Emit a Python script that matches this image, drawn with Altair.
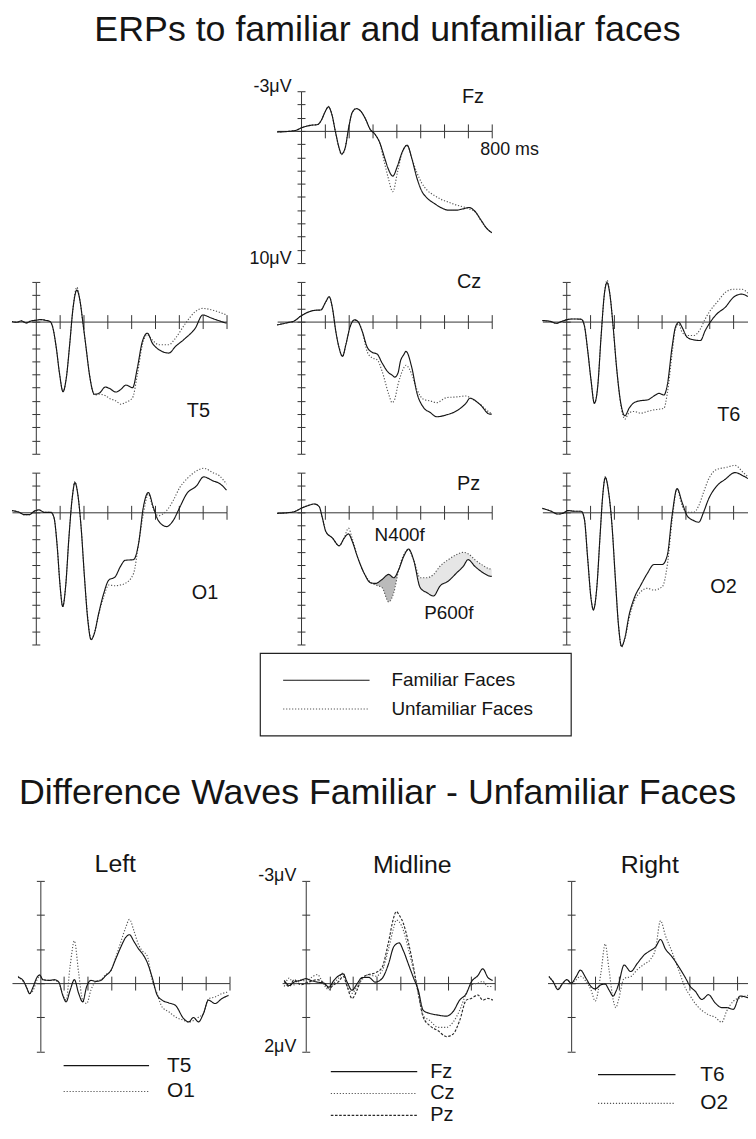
import altair as alt
import pandas as pd

FONT = "Liberation Sans"
INK = "#151515"
GREY = "#555555"
AX = "#333333"

# ---------------- text ----------------
TITLE_TOP = "ERPs to familiar and unfamiliar faces"
TITLE_DIFF = "Difference Waves Familiar - Unfamiliar Faces"
CONDITIONS = ["Familiar Faces", "Unfamiliar Faces"]
DIFF_TITLES = ["Left", "Midline", "Right"]
FZ_Y_LABELS = ["-3\u03bcV", "10\u03bcV"]
MID_Y_LABELS = ["-3\u03bcV", "2\u03bcV"]
X_END_LABEL = "800 ms"

# ---------------- ticks ----------------
top_uv_ticks = list(range(-3, 11))
diff_uv_ticks = list(range(-3, 3))
ms_ticks = [100, 200, 300, 400, 500, 600, 700, 800]
ms_ticks_cut = [100, 200, 300, 400, 500, 600, 700]

# ---------------- ERP waveforms (ms / microvolt, negative up) ----------------
fz_t = [-100, -60, -20, 0, 40, 70, 85, 100, 115, 130, 145, 160, 170, 185, 200, 215, 232, 250, 270, 290,
        310, 330, 350, 365, 385, 405, 425, 445, 465, 485, 505, 530, 560, 590, 620, 650, 680, 705, 730, 755, 780, 800]
fz_fam = [0.08, 0.05, -0.05, -0.22, -0.42, -0.48, -0.8, -1.4, -1.82, -1.2, 0.12, 1.3, 1.75, 1.3, -0.25, -1.4, -1.68, -1.5, -0.92, -0.12,
          0.25, 0.88, 2.0, 2.83, 3.42, 2.63, 1.58, 1.08, 2.1, 3.5, 4.5, 5.1, 5.5, 5.83, 6.0, 6.0, 5.9, 5.8, 6.1, 6.75, 7.4, 7.7]
fz_unf = [0.08, 0.05, -0.05, -0.22, -0.42, -0.48, -0.8, -1.4, -1.85, -1.2, 0.12, 1.35, 1.8, 1.3, -0.25, -1.4, -1.7, -1.5, -0.92, -0.12,
          0.25, 0.9, 2.4, 3.5, 4.6, 3.1, 1.6, 1.1, 2.1, 3.1, 3.9, 4.5, 4.9, 5.2, 5.4, 5.6, 5.75, 5.9, 6.1, 6.8, 7.4, 7.7]

t5_t = [-100, -80, -60, -40, -20, 0, 20, 40, 60, 72, 86, 100, 114, 128, 142, 156, 172, 186, 197, 211,
        225, 246, 267, 292, 308, 336, 357, 378, 406, 426, 447, 468, 489, 517, 558, 586, 628, 669, 700, 739, 800]
t5_fam = [0.0, 0.05, -0.05, 0.1, -0.05, -0.1, -0.15, -0.1, 0.0, 0.5, 2.0, 4.0, 5.3, 4.25, 1.75, -1.0, -2.38, -1.5, 0.0, 2.0,
          4.0, 5.5, 5.4, 4.95, 5.05, 5.33, 5.13, 4.8, 5.0, 3.5, 1.5, 0.88, 1.63, 2.13, 2.38, 1.88, 1.25, 0.5, -0.5, -0.25, 0.13]
t5_unf = [0.0, 0.05, -0.05, 0.1, -0.05, -0.1, -0.15, -0.1, 0.0, 0.5, 2.0, 4.0, 5.3, 4.25, 1.75, -1.0, -2.6, -1.5, 0.0, 2.0,
          4.0, 5.55, 5.5, 5.6, 5.8, 6.0, 6.25, 6.1, 5.75, 4.0, 1.75, 1.0, 1.4, 1.75, 1.75, 1.25, 0.13, -0.75, -1.0, -0.88, -0.5]

cz_t = [-100, -56, -28, 0, 28, 56, 83, 104, 118, 132, 146, 160, 174, 188, 206, 225, 239, 257, 278, 299,
        319, 340, 368, 382, 393, 407, 417, 431, 440, 465, 486, 514, 542, 569, 611, 653, 694, 708, 750, 792, 800]
cz_fam = [0.25, 0.08, -0.05, -0.43, -0.7, -0.85, -0.88, -1.5, -1.88, -1.0, 0.75, 2.0, 2.63, 1.75, 0.38, -0.13, 0.0, 0.75, 1.95, 2.33,
          2.45, 3.13, 3.88, 4.05, 4.2, 3.88, 3.0, 2.5, 2.25, 3.5, 5.38, 6.5, 6.88, 7.2, 7.05, 6.75, 6.13, 5.8, 6.25, 7.0, 7.0]
cz_unf = [0.25, 0.08, -0.05, -0.43, -0.7, -0.85, -0.88, -1.5, -1.88, -1.0, 0.75, 2.0, 2.63, 1.75, 0.38, -0.13, 0.0, 0.75, 2.3, 2.75,
          2.88, 3.75, 5.5, 6.13, 5.88, 4.75, 4.13, 3.5, 3.3, 4.0, 5.13, 5.88, 6.0, 6.13, 5.75, 5.7, 5.63, 5.75, 6.25, 6.88, 6.95]

t6_t = [-100, -63, -42, -21, 0, 28, 63, 76, 90, 104, 118, 132, 146, 160, 171, 183, 197, 211, 229, 246,
        264, 285, 313, 340, 368, 389, 410, 424, 444, 458, 472, 486, 507, 535, 563, 583, 604, 632, 667, 701, 736, 762]
t6_fam = [-0.08, 0.0, 0.13, 0.0, -0.13, -0.2, -0.18, 0.3, 2.18, 4.43, 6.18, 4.93, 1.18, -2.08, -2.95, -2.08, 0.43, 3.43, 6.18, 7.13,
          6.55, 6.13, 5.98, 5.93, 5.63, 5.43, 5.55, 4.8, 1.93, 0.43, 0.05, 0.43, 1.18, 1.38, 1.43, 0.68, 0.05, -0.58, -1.08, -1.83, -2.08, -1.9]
t6_unf = [-0.08, 0.0, 0.13, 0.0, -0.13, -0.2, -0.18, 0.3, 2.18, 4.43, 6.18, 4.93, 1.18, -2.08, -3.13, -2.1, 0.43, 3.43, 6.3, 7.38,
          6.88, 6.8, 6.93, 6.8, 6.68, 6.63, 6.55, 5.43, 2.43, 0.55, 0.18, 0.8, 1.05, 1.05, 0.55, -0.2, -0.83, -1.45, -2.2, -2.45, -2.45, -2.15]

o1_t = [-100, -69, -49, -28, -7, 14, 35, 63, 76, 90, 101, 113, 125, 139, 153, 164, 176, 190, 204, 218,
        232, 246, 264, 285, 306, 333, 354, 375, 410, 431, 451, 472, 493, 514, 549, 576, 604, 632, 674, 704, 743, 771, 800]
o1_fam = [-0.13, 0.0, 0.18, 0.18, -0.08, -0.18, 0.0, 0.0, 0.38, 2.63, 5.38, 7.13, 5.63, 1.88, -1.13, -2.25, -1.38, 1.13, 4.88, 8.13,
          9.63, 9.13, 7.63, 6.13, 5.13, 4.88, 4.13, 3.63, 3.58, 2.38, -0.38, -1.5, -0.38, 0.63, 1.08, 0.63, -0.38, -1.38, -2.0, -2.68, -2.38, -2.18, -1.68]
o1_unf = [-0.13, 0.0, 0.18, 0.18, -0.08, -0.18, 0.0, 0.0, 0.38, 2.63, 5.38, 7.13, 5.63, 1.88, -1.13, -2.33, -1.38, 1.13, 4.88, 8.0,
          9.63, 9.13, 7.7, 6.38, 5.5, 5.56, 5.5, 5.38, 4.63, 2.38, 0.13, -1.38, -0.25, 0.25, -0.13, -0.88, -1.88, -2.5, -3.13, -3.33, -3.0, -2.75, -2.13]

pz_t = [-100, -56, -28, 0, 28, 56, 76, 90, 104, 132, 160, 181, 199, 215, 236, 264, 292, 313, 340, 368,
        389, 410, 431, 451, 472, 500, 528, 556, 583, 618, 653, 681, 701, 729, 764, 792, 800]
pz_fam = [0.08, 0.03, -0.05, -0.3, -0.5, -0.63, -0.43, 0.45, 1.45, 1.95, 2.53, 1.95, 1.63, 2.2, 3.33, 4.58, 5.33, 5.38, 5.08, 4.7,
          4.95, 4.33, 3.33, 2.78, 3.58, 5.7, 6.08, 6.33, 5.58, 5.2, 4.58, 4.08, 3.58, 4.08, 4.58, 4.83, 4.85]
pz_unf = [0.08, 0.03, -0.05, -0.3, -0.5, -0.63, -0.43, 0.45, 1.45, 1.95, 2.53, 1.95, 1.2, 2.0, 3.33, 4.58, 5.3, 5.5, 5.7, 6.78,
          6.08, 4.33, 3.2, 2.83, 3.58, 4.95, 4.95, 4.7, 4.08, 3.58, 3.2, 3.03, 3.13, 3.58, 4.03, 4.28, 4.3]
PZ_EFFECTS = ["N400f", "P600f"]
pz_effect_windows = [[292, 431], [472, 800]]

o2_t = [-100, -63, -35, -14, 7, 35, 63, 76, 90, 104, 114, 128, 142, 153, 164, 178, 192, 206, 219, 232,
        246, 264, 285, 313, 340, 368, 403, 424, 444, 465, 486, 507, 535, 556, 576, 597, 632, 667, 708, 743, 762]
o2_fam = [-0.3, -0.08, 0.13, 0.08, -0.13, -0.08, -0.08, 0.5, 3.5, 6.5, 7.38, 5.75, 1.75, -1.25, -2.63, -1.5, 1.0, 5.0, 8.5, 10.13,
          9.5, 7.75, 6.5, 5.5, 4.63, 3.95, 3.95, 3.25, 0.25, -1.8, -0.75, 0.25, 0.63, 0.75, 0.0, -1.0, -2.0, -2.5, -3.0, -2.75, -2.55]
o2_unf = [-0.3, -0.08, 0.13, 0.08, -0.13, -0.08, -0.08, 0.5, 3.5, 6.5, 7.38, 5.75, 1.75, -1.25, -2.7, -1.5, 1.0, 5.0, 8.5, 10.2,
          9.6, 8.0, 6.75, 6.0, 5.75, 5.88, 5.63, 4.0, 0.63, -1.75, -0.5, 0.0, 0.0, -0.5, -1.5, -2.5, -3.25, -3.38, -3.55, -3.0, -2.7]

# ---------------- difference waves (familiar - unfamiliar) ----------------
dl_t = [-94, -73, -59, -45, -31, -14, -3, 11, 39, 60, 78, 95, 109, 126, 144, 162, 179, 196, 214, 235,
        256, 277, 298, 319, 340, 361, 377, 396, 417, 431, 452, 473, 494, 515, 543, 571, 606, 627, 648, 669,
        690, 711, 739, 767, 796]
t5_diff = [-0.17, -0.08, 0.12, 0.31, 0.12, -0.17, -0.24, -0.1, -0.08, -0.1, -0.03, 0.36, 0.55, 0.21, -0.1, 0.3, 0.55, 0.1, -0.08, -0.05,
           -0.08, -0.22, -0.37, -0.71, -1.05, -1.34, -1.42, -1.22, -0.99, -0.87, -0.61, -0.17, 0.35, 0.5, 0.58, 0.65, 1.04, 1.14, 1.01, 1.14,
           0.89, 0.5, 0.6, 0.46, 0.36]
o1_diff = [-0.2, -0.05, 0.1, 0.3, 0.22, -0.1, -0.2, -0.1, -0.08, -0.08, 0.0, 0.35, 0.5, -0.5, -1.24, -0.3, 0.5, 0.6, 0.2, -0.05,
           -0.1, -0.25, -0.35, -0.75, -1.2, -1.63, -1.87, -1.53, -1.1, -0.95, -0.8, -0.08, 0.31, 0.7, 0.84, 0.99, 1.09, 1.14, 1.1, 1.0,
           0.9, 0.46, 0.41, 0.31, 0.26]

dm_t = [-91, -70, -49, -21, 0, 21, 49, 77, 98, 119, 140, 158, 175, 196, 217, 238, 266, 294, 322, 350,
        371, 383, 395, 413, 434, 455, 476, 497, 525, 560, 595, 623, 651, 679, 700, 728, 749, 770, 791]
fz_diff = [-0.08, 0.07, -0.03, -0.08, -0.13, -0.08, -0.03, 0.0, 0.12, -0.08, -0.22, -0.27, -0.03, 0.21, 0.02, -0.16, -0.17, -0.03, -0.13, -0.56,
           -1.05, -1.15, -1.18, -0.95, -0.56, -0.17, 0.21, 0.8, 0.89, 0.94, 0.97, 0.84, 0.5, 0.31, -0.03, -0.22, -0.42, -0.17, -0.08]
cz_diff = [0.1, -0.15, 0.05, -0.1, -0.05, -0.15, -0.25, 0.05, 0.2, 0.0, -0.15, -0.3, 0.05, 0.3, 0.1, -0.1, -0.25, -0.2, -0.35, -1.0,
           -1.6, -1.85, -1.8, -1.55, -1.0, -0.4, 0.3, 0.95, 1.1, 1.3, 1.3, 1.15, 0.8, 0.3, 0.05, 0.0, -0.05, 0.1, 0.1]
pz_diff = [-0.05, 0.1, -0.1, 0.05, 0.0, -0.05, -0.1, 0.0, 0.15, 0.05, -0.05, -0.2, 0.1, 0.45, 0.2, -0.15, -0.25, -0.3, -0.45, -1.2,
           -1.9, -2.1, -2.0, -1.75, -1.2, -0.5, 0.3, 1.0, 1.25, 1.4, 1.57, 1.5, 1.1, 0.5, 0.45, 0.35, 0.5, 0.45, 0.5]

dr_t = [-94, -77, -56, -35, -18, 0, 21, 39, 63, 84, 102, 126, 144, 160, 178, 189, 200, 224, 252, 280,
        308, 336, 357, 378, 399, 427, 455, 483, 504, 525, 553, 581, 609, 637, 658, 686, 714, 748]
t6_diff = [-0.19, -0.05, 0.19, 0.0, -0.1, 0.0, -0.19, -0.38, -0.14, 0.1, 0.17, 0.05, 0.03, 0.2, 0.38, 0.25, 0.05, -0.53, -0.34, -0.58,
           -0.82, -0.96, -1.06, -1.28, -1.0, -0.77, -0.48, -0.16, 0.1, 0.24, 0.48, 0.34, 0.58, 0.72, 0.72, 0.77, 0.38, 0.43]
o2_diff = [-0.2, -0.05, 0.15, 0.0, -0.1, 0.0, -0.1, -0.2, -0.05, 0.2, 0.53, -0.3, -1.15, -0.4, 0.5, 0.72, 0.5, -0.14, -0.19, -0.4,
           -0.55, -0.7, -1.0, -1.83, -1.39, -0.91, -0.38, 0.14, 0.38, 0.6, 0.8, 0.93, 1.0, 1.15, 0.82, 0.53, 0.43, 0.36]

# ---------------- styles / geometry ----------------
SOLID = {"color": INK, "dash": [1, 0], "width": 1.15}
DOTTED = {"color": GREY, "dash": [1.2, 1.8], "width": 1.15}
DASHED = {"color": "#2a2a2a", "dash": [2.6, 1.6], "width": 1.15}

W_TOTAL = 741.0
H_TOTAL = 1122.0
TOP_PX_MS, TOP_H = 0.24, 173.0
DIFF_PX_MS, DIFF_H = 0.238, 171.5


def text_layer(txt, x, y, size, align="left"):
    return (alt.Chart(pd.DataFrame({"label": [txt]}))
            .mark_text(font=FONT, fontSize=size, align=align, baseline="middle", color=INK)
            .encode(text="label:N", x=alt.value(x), y=alt.value(y)))


def rule_layer(name, st, x0, x1, y):
    return (alt.Chart(pd.DataFrame({"label": [name]}))
            .mark_rule(stroke=st["color"], strokeDash=st["dash"], strokeWidth=st["width"])
            .encode(x=alt.value(x0), x2=alt.value(x1), y=alt.value(y)))


def panel(t, series, styles, xmin, xmax, pxms, height, ydom, yticks, xticks, px0, py0,
          ylab=None, xlab=None, texts=(), shade=()):
    width = (xmax - xmin) * pxms
    xzero = px0 - xmin * pxms
    yzero = py0 + (-ydom[0]) / (ydom[1] - ydom[0]) * height
    xs = alt.Scale(domain=[xmin, xmax], range=[px0, px0 + width], nice=False, zero=False)
    ys = alt.Scale(domain=list(ydom), range=[py0, py0 + height], nice=False, zero=False)
    layers = []
    for (lo, hi), fill, op in shade:
        dfa = pd.DataFrame({"t": t, "a": series[0], "b": series[1]})
        layers.append(
            alt.Chart(dfa)
            .transform_filter(alt.FieldRangePredicate(field="t", range=[lo, hi]))
            .mark_area(color=fill, opacity=op, interpolate="monotone")
            .encode(x=alt.X("t:Q", scale=xs, axis=None),
                    y=alt.Y("a:Q", scale=ys, axis=None),
                    y2="b:Q"))
    if xlab:
        xkw = dict(labels=True, labelExpr=f"datum.value == 800 ? '{xlab}' : ''", labelAlign="left",
                   labelOffset=-12, labelPadding=3, labelFontSize=18, labelBaseline="top")
    else:
        xkw = dict(labels=False)
    if ylab:
        ykw = dict(labels=True,
                   labelExpr=f"datum.value == {ydom[0]} ? '{ylab[0]}' : (datum.value == {ydom[1]} ? '{ylab[1]}' : '')",
                   labelFontSize=18, labelPadding=6, labelOffset=-5, labelBaseline="middle", labelAlign="right")
    else:
        ykw = dict(labels=False)
    lines = []
    for i, (vals, st) in enumerate(zip(series, styles)):
        df = pd.DataFrame({"t": t, "v": vals})
        if i == 0:
            xa = alt.Axis(orient="bottom", offset=yzero - H_TOTAL, values=xticks, tickSize=7,
                          title=None, grid=False, labelOverlap=False, labelFlush=False, **xkw)
            ya = alt.Axis(orient="left", offset=-xzero, values=yticks, tickSize=4,
                          title=None, grid=False, labelOverlap=False, **ykw)
        elif i == 1:
            xa = alt.Axis(orient="top", offset=-yzero, values=xticks, tickSize=7,
                          labels=False, domain=False, title=None, grid=False)
            ya = alt.Axis(orient="right", offset=xzero - W_TOTAL, values=yticks, tickSize=4,
                          labels=False, domain=False, title=None, grid=False)
        else:
            xa = None
            ya = None
        lines.append(
            alt.Chart(df)
            .mark_line(stroke=st["color"], strokeDash=st["dash"], strokeWidth=st["width"],
                       interpolate="monotone")
            .encode(x=alt.X("t:Q", scale=xs, axis=xa), y=alt.Y("v:Q", scale=ys, axis=ya)))
    layers += lines[::-1]
    for txt, rx, ry, size, align in texts:
        layers.append(text_layer(txt, px0 + rx, py0 + ry, size, align))
    return layers


FU = [SOLID, DOTTED]
TOPY = (-3, 10)
DIFFY = (-3, 2)
COL_X = [0, 267, 534]
ROW_Y = [80, 272, 464]
DCOL_X = [0, 271.96, 539.16]
DROW_Y = 875

layers = []
layers.append(text_layer(TITLE_TOP, 378, 18, 36, "center"))

layers += panel(fz_t, [fz_fam, fz_unf], FU, -100, 800, TOP_PX_MS, TOP_H, TOPY, top_uv_ticks, ms_ticks,
                COL_X[1], ROW_Y[0], ylab=FZ_Y_LABELS, xlab=X_END_LABEL, texts=[("Fz", 186, 6, 20, "left")])
layers += panel(t5_t, [t5_fam, t5_unf], FU, -100, 800, TOP_PX_MS, TOP_H, TOPY, top_uv_ticks, ms_ticks,
                COL_X[0], ROW_Y[1], texts=[("T5", 176, 130, 20, "left")])
layers += panel(cz_t, [cz_fam, cz_unf], FU, -100, 800, TOP_PX_MS, TOP_H, TOPY, top_uv_ticks, ms_ticks,
                COL_X[1], ROW_Y[1], texts=[("Cz", 181, 0, 20, "left")])
layers += panel(t6_t, [t6_fam, t6_unf], FU, -100, 762.5, TOP_PX_MS, TOP_H, TOPY, top_uv_ticks, ms_ticks_cut,
                COL_X[2], ROW_Y[1], texts=[("T6", 176, 134, 20, "left")])
layers += panel(o1_t, [o1_fam, o1_unf], FU, -100, 800, TOP_PX_MS, TOP_H, TOPY, top_uv_ticks, ms_ticks,
                COL_X[0], ROW_Y[2], texts=[("O1", 181, 121, 20, "left")])
layers += panel(pz_t, [pz_fam, pz_unf], FU, -100, 800, TOP_PX_MS, TOP_H, TOPY, top_uv_ticks, ms_ticks,
                COL_X[1], ROW_Y[2],
                texts=[("Pz", 181, 11, 20, "left"), (PZ_EFFECTS[0], 98, 63, 19, "left"),
                       (PZ_EFFECTS[1], 148, 141, 19, "left")],
                shade=[(pz_effect_windows[0], "#8c8c8c", 0.6), (pz_effect_windows[1], "#c8c8c8", 0.45)])
layers += panel(o2_t, [o2_fam, o2_unf], FU, -100, 762.5, TOP_PX_MS, TOP_H, TOPY, top_uv_ticks, ms_ticks_cut,
                COL_X[2], ROW_Y[2], texts=[("O2", 169, 115, 20, "left")])

# legend box for the ERP panels
layers.append(
    alt.Chart(pd.DataFrame({"label": ["legend"]}))
    .mark_rect(fill="white", fillOpacity=0, stroke="#222222", strokeWidth=1.2)
    .encode(x=alt.value(250), x2=alt.value(563), y=alt.value(646), y2=alt.value(729)))
for name, st, yy in zip(CONDITIONS, FU, [673, 702]):
    layers.append(rule_layer(name, st, 273, 360, yy))
    layers.append(text_layer(name, 382, yy, 19))

layers.append(text_layer(TITLE_DIFF, 368, 787, 36, "center"))

layers += panel(dl_t, [t5_diff, o1_diff], FU, -120, 800, DIFF_PX_MS, DIFF_H, DIFFY, diff_uv_ticks, ms_ticks,
                DCOL_X[0], DROW_Y, texts=[(DIFF_TITLES[0], 104, -17, 25, "center")])
layers += panel(dm_t, [fz_diff, cz_diff, pz_diff], [SOLID, DOTTED, DASHED], -100, 800, DIFF_PX_MS, DIFF_H,
                DIFFY, diff_uv_ticks, ms_ticks, DCOL_X[1], DROW_Y, ylab=MID_Y_LABELS,
                texts=[(DIFF_TITLES[1], 131, -16, 25, "center")])
layers += panel(dr_t, [t6_diff, o2_diff], FU, -100, 748, DIFF_PX_MS, DIFF_H, DIFFY, diff_uv_ticks,
                ms_ticks_cut, DCOL_X[2], DROW_Y, texts=[(DIFF_TITLES[2], 103, -16, 25, "center")])

# difference-wave legends (kept inside the 1139 px window)
for name, st, yy in [("T5", SOLID, 1061), ("O1", DOTTED, 1087)]:
    layers.append(rule_layer(name, st, 52, 138, yy))
    layers.append(text_layer(name, 156, yy, 21))
for name, st, yy in [("Fz", SOLID, 1067), ("Cz", DOTTED, 1089), ("Pz", DASHED, 1111)]:
    layers.append(rule_layer(name, st, 321, 408, yy))
    layers.append(text_layer(name, 421, yy, 20))
for name, st, yy in [("T6", SOLID, 1070), ("O2", DOTTED, 1099)]:
    layers.append(rule_layer(name, st, 590, 668, yy))
    layers.append(text_layer(name, 693, yy, 21))

chart = (
    alt.layer(*layers)
    .resolve_scale(x="independent", y="independent")
    .resolve_axis(x="independent", y="independent")
    .properties(width=W_TOTAL, height=H_TOTAL,
                autosize=alt.AutoSizeParams(type="none"),
                padding={"left": 4, "top": 0, "right": 0, "bottom": 0}, background="white")
    .configure_view(stroke=None)
    .configure_axis(labelFont=FONT, labelColor=INK, domainColor=AX, tickColor=AX,
                    domainWidth=1, tickWidth=1, grid=False)
)

chart.save("out.html", embed_options={"renderer": "svg", "actions": False})
